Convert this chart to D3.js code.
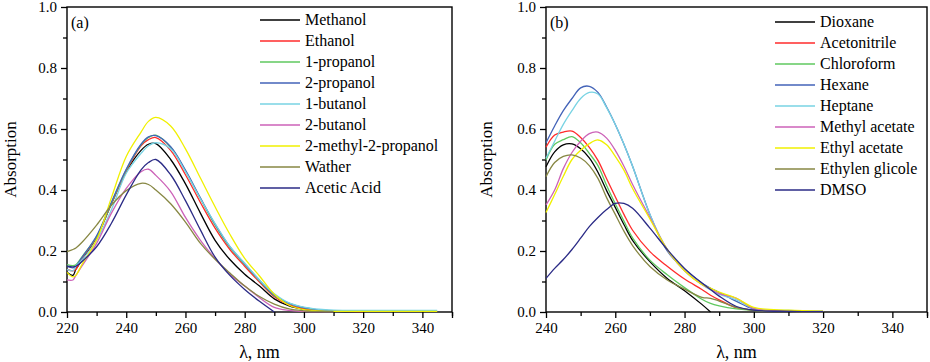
<!DOCTYPE html>
<html>
<head>
<meta charset="utf-8">
<script src="https://cdn.jsdelivr.net/npm/d3@7"></script>
<style>
  body { margin: 0; background: #fff; }
  svg text { font-family: "Liberation Serif", "Times New Roman", serif; fill: #000; }
  .tick text { font-size: 15px; }
  .axis path, .axis line { stroke: #000; stroke-width: 1.3; }
</style>
</head>
<body>
<div id="chart"></div>
<script>
// ---- panel (a): alcohols etc. ----
const gridA = [220, 222, 223, 225, 230, 235, 240, 245, 247.5, 250, 255, 260, 265, 270, 275, 280, 285, 290, 295, 300, 305, 310, 320, 330, 345];
const namesA = ['Methanol', 'Ethanol', '1-propanol', '2-propanol', '1-butanol', '2-butanol', '2-methyl-2-propanol', 'Wather', 'Acetic Acid'];
const methanol = [.13, .12, .14, .17, .245, .355, .46, .53, .55, .552, .50, .42, .325, .235, .172, .124, .085, .043, .02, .009, .004, .002, .001, null, null];
const ethanol = [.14, .135, .14, .175, .245, .355, .462, .545, .565, .572, .53, .45, .36, .275, .205, .15, .098, .05, .024, .011, .005, .003, .001, null, null];
const propanol1 = [.155, .152, .155, .18, .247, .357, .466, .548, .572, .580, .54, .462, .372, .285, .212, .156, .102, .053, .028, .014, .007, .004, .002, null, null];
const propanol2 = [.15, .145, .15, .178, .25, .36, .468, .55, .574, .578, .542, .465, .375, .288, .214, .158, .104, .055, .028, .014, .007, .004, .002, null, null];
const butanol1 = [.14, .135, .15, .17, .235, .335, .455, .52, .545, .555, .535, .46, .372, .29, .215, .16, .105, .06, .03, .016, .009, .006, .005, .005, .005];
const butanol2 = [.105, .105, .12, .15, .225, .324, .405, .46, .468, .448, .395, .31, .236, .175, .124, .085, .047, .015, .005, .002, .001, .001, null, null, null];
const methylPropanol = [.13, .115, .12, .155, .236, .375, .51, .59, .625, .638, .61, .535, .44, .345, .255, .176, .118, .058, .022, .008, .004, .002, .002, .002, .002];
const wather = [.198, .205, .21, .228, .285, .35, .398, .422, .418, .40, .355, .295, .226, .173, .128, .085, .051, .026, .01, .004, .002, .001, null, null, null];
const aceticAcid = [.15, .148, .15, .165, .214, .291, .384, .466, .49, .50, .45, .365, .27, .18, .12, .074, .035, 0, null, null, null, null, null, null, null];

// ---- panel (b): other solvents ----
const gridB = [240, 242.5, 245, 247.5, 250, 252.5, 255, 257.5, 260, 262.5, 265, 270, 275, 280, 285, 287.5, 290, 295, 300, 310, 320];
const namesB = ['Dioxane', 'Acetonitrile', 'Chloroform', 'Hexane', 'Heptane', 'Methyl acetate', 'Ethyl acetate', 'Ethylen glicole', 'DMSO'];
const dioxane = [.476, .525, .548, .551, .535, .505, .458, .398, .343, .287, .235, .165, .11, .07, .025, 0, null, null, null, null, null];
const acetonitrile = [.54, .58, .59, .593, .572, .54, .497, .437, .378, .32, .268, .198, .15, .108, .074, .055, .04, .014, .006, .002, .001];
const chloroform = [.498, .55, .565, .575, .555, .52, .48, .415, .355, .298, .243, .17, .122, .08, .042, .028, .02, .01, .005, .002, .001];
const hexane = [.555, .61, .66, .70, .735, .74, .72, .672, .615, .55, .478, .32, .20, .14, .095, .078, .064, .035, .01, .004, .002];
const heptane = [.504, .56, .615, .66, .70, .72, .715, .67, .615, .55, .478, .32, .205, .135, .09, .072, .058, .04, .012, .005, .003];
const methylAcetate = [.351, .40, .47, .523, .56, .585, .59, .57, .53, .478, .418, .31, .205, .135, .09, .075, .06, .045, .012, .004, .002];
const ethylAcetate = [.326, .385, .445, .50, .53, .552, .564, .548, .51, .465, .405, .305, .205, .135, .09, .078, .065, .045, .015, .006, .003];
const ethylenGlicole = [.444, .49, .51, .515, .505, .48, .438, .375, .32, .265, .218, .149, .105, .075, .048, .045, .036, .015, .005, .002, .001];
const dmso = [.11, .143, .172, .205, .242, .28, .31, .336, .356, .356, .34, .275, .205, .143, .095, .074, .052, .018, .006, .002, .001];

const colors = ['#000000', '#ff2b2b', '#5fc95f', '#4363b8', '#78d3e3', '#cc62b8', '#f0f000', '#878743', '#2b2b86'];

const xTicksA = [220, 240, 260, 280, 300, 320, 340];
const xTicksB = [240, 260, 280, 300, 320, 340];
const yTicks = [0, 0.2, 0.4, 0.6, 0.8, 1.0];

const panels = [
  {
    label: '(a)', grid: gridA, names: namesA,
    series: [methanol, ethanol, propanol1, propanol2, butanol1, butanol2, methylPropanol, wather, aceticAcid],
    xDomain: [220, 350], xRange: [67, 452], xTicks: xTicksA,
    legendX: 260, legendY: 20, titleX: 16
  },
  {
    label: '(b)', grid: gridB, names: namesB,
    series: [dioxane, acetonitrile, chloroform, hexane, heptane, methylAcetate, ethylAcetate, ethylenGlicole, dmso],
    xDomain: [240, 350], xRange: [546, 927], xTicks: xTicksB,
    legendX: 775, legendY: 22, titleX: 492
  }
];

const svg = d3.select('#chart').append('svg')
    .attr('width', 930)
    .attr('height', 362);

const yScale = d3.scaleLinear().domain([0, 1]).range([312, 7]);

panels.forEach(p => {
  const x = d3.scaleLinear().domain(p.xDomain).range(p.xRange);
  const g = svg.append('g');

  // minor ticks (no labels)
  const minorX = d3.range(p.xDomain[0] + 10, p.xDomain[1] + 1, 20);
  g.append('g').attr('class', 'axis')
      .attr('transform', `translate(0,${yScale(0)})`)
      .call(d3.axisBottom(x).tickValues(minorX).tickSize(4).tickFormat(''))
      .call(a => a.select('.domain').remove());
  g.append('g').attr('class', 'axis')
      .attr('transform', `translate(${p.xRange[0]},0)`)
      .call(d3.axisLeft(yScale).tickValues([0.1, 0.3, 0.5, 0.7, 0.9]).tickSize(4).tickFormat(''))
      .call(a => a.select('.domain').remove());

  // major axes
  g.append('g').attr('class', 'axis')
      .attr('transform', `translate(0,${yScale(0)})`)
      .call(d3.axisBottom(x).tickValues(p.xTicks.concat([p.xDomain[1]])).tickSize(6).tickPadding(4)
        .tickFormat(d => p.xTicks.includes(d) ? d : ''))
      .call(a => a.select('.domain').remove());
  g.append('g').attr('class', 'axis')
      .attr('transform', `translate(${p.xRange[0]},0)`)
      .call(d3.axisLeft(yScale).tickValues(yTicks).tickSize(6).tickPadding(4).tickFormat(d3.format('.1f')))
      .call(a => a.select('.domain').remove());

  // frame
  g.append('rect')
      .attr('x', p.xRange[0])
      .attr('y', yScale(1))
      .attr('width', p.xRange[1] - p.xRange[0])
      .attr('height', yScale(0) - yScale(1))
      .attr('fill', 'none')
      .attr('stroke', '#000')
      .attr('stroke-width', 1.4);

  // curves
  const line = d3.line()
      .defined(d => d[1] !== null)
      .x(d => x(d[0]))
      .y(d => yScale(d[1]))
      .curve(d3.curveCatmullRom.alpha(0.5));

  p.series.forEach((s, i) => {
    g.append('path')
        .datum(p.grid.map((v, j) => [v, s[j]]))
        .attr('fill', 'none')
        .attr('stroke', colors[i])
        .attr('stroke-width', 1.3)
        .attr('d', line);
  });

  // legend
  const leg = g.append('g').attr('transform', `translate(${p.legendX},${p.legendY})`);
  p.names.forEach((n, i) => {
    leg.append('line')
        .attr('x1', 0).attr('x2', 40)
        .attr('y1', i * 21).attr('y2', i * 21)
        .attr('stroke', colors[i])
        .attr('stroke-width', 1.4);
    leg.append('text')
        .attr('x', 45)
        .attr('y', i * 21)
        .attr('dy', '0.33em')
        .style('font-size', '16px')
        .text(n);
  });

  // panel label
  g.append('text')
      .attr('x', p.xRange[0] + 4)
      .attr('y', 28)
      .style('font-size', '16px')
      .text(p.label);

  // axis titles
  g.append('text')
      .attr('transform', `translate(${p.titleX},${(yScale(0) + yScale(1)) / 2}) rotate(-90)`)
      .attr('text-anchor', 'middle')
      .style('font-size', '17px')
      .text('Absorption');
  g.append('text')
      .attr('x', (p.xRange[0] + p.xRange[1]) / 2)
      .attr('y', 358)
      .attr('text-anchor', 'middle')
      .style('font-size', '18px')
      .text('λ, nm');
});
</script>
</body>
</html>
